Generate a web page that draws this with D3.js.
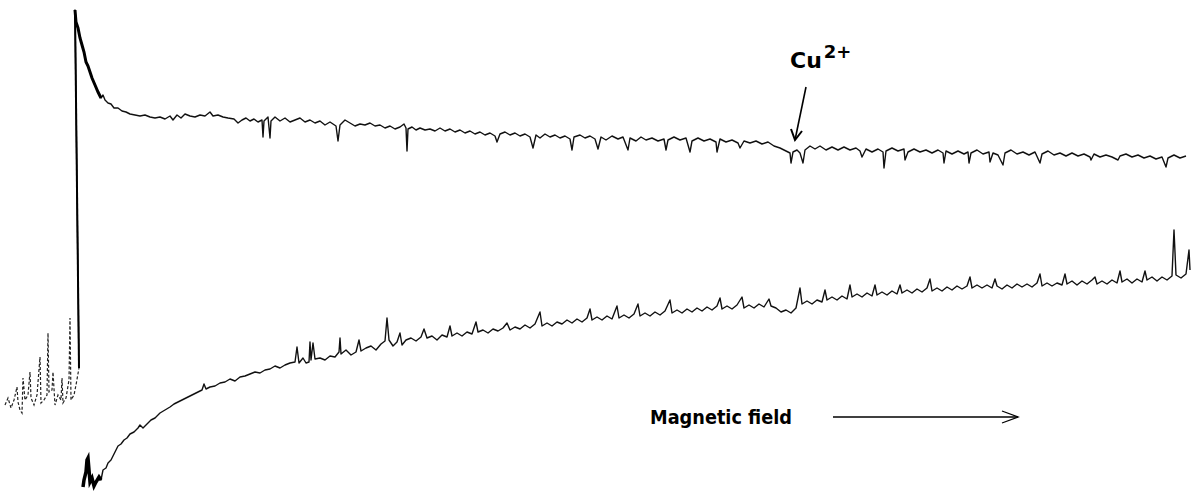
<!DOCTYPE html>
<html>
<head>
<meta charset="utf-8">
<script src="https://cdn.jsdelivr.net/npm/d3@7"></script>
<style>
  body { margin: 0; background: #fff; }
  #chart { width: 1194px; height: 493px; }
</style>
</head>
<body>
<div id="chart"></div>
<script>
// field in arbitrary sweep units, signal in arbitrary units

// noisy stretch before the big line
const leadField  = [0.5,0.8,1.1,1.4,1.7,1.8,2.0,2.2,2.3,2.5,2.8,3.0,3.1,3.4,3.7,4.0,4.1,4.4,4.7,4.8,4.9,5.2,5.3,5.5,5.8,6.1,6.2,6.3,6.6,6.9,7.0,7.1,7.4,7.6,7.9];
const leadSignal = [88,95,85,93,106,91,83,80,115,93,98,121,95,88,98,136,90,93,98,160,101,103,121,88,98,93,115,90,95,113,175,93,98,108,125];

// upper trace (big line + decay + Cu2+ region)
const upperField = [7.9,7.5,7.6,7.8,8.0,8.2,8.4,8.6,8.8,9.0,9.2,9.5,9.8,10.1,10.3,10.5,10.8,11.1,11.4,11.8,12.2,12.6,13.0,13.5,14.0,14.5,15.0,15.5,16.0,16.5,17.0,17.3,17.7,18.1,18.5,19.0,19.5,20.0,20.5,21.0,21.3,21.8,22.3,22.8,23.4,23.8,24.2,24.6,25.0,25.4,25.8,26.2,26.3,26.4,26.8,27.0,27.1,27.5,28.0,28.5,29.0,29.5,
  30.0,30.5,31.0,31.5,32.0,32.5,33.0,33.6,33.8,34.0,34.5,35.0,35.5,36.0,36.5,37.0,37.5,38.0,38.5,39.0,39.5,40.0,40.4,40.6,40.7,40.8,41.2,41.6,42.0,42.5,43.0,43.5,44.0,44.5,45.0,45.5,46.0,46.5,47.0,47.5,48.0,48.5,49.0,49.5,49.7,
  50.0,50.5,51.0,51.5,52.0,52.5,53.0,53.3,53.6,54.0,54.5,55.0,55.5,56.0,56.5,57.0,57.2,57.4,58.0,58.5,59.0,59.5,59.8,60.1,60.6,61.2,61.8,62.3,62.8,63.0,63.6,64.1,64.6,65.2,65.8,66.4,66.6,66.8,67.4,68.0,68.6,69.0,69.2,69.8,
  70.4,71.0,71.6,71.7,72.0,72.6,73.2,73.8,74.0,74.4,75.0,75.6,76.2,76.8,77.4,78.0,78.6,79.0,79.1,79.3,79.7,80.0,80.3,80.5,81.0,81.5,82.0,82.6,83.2,83.8,84.4,85.0,85.6,86.0,86.2,86.6,87.2,87.8,88.3,88.4,88.6,89.2,89.8,
  90.4,90.5,90.8,91.4,92.0,92.6,93.2,93.8,94.3,94.4,94.6,95.2,95.8,96.4,96.8,96.9,97.1,97.7,98.3,98.9,99.0,99.3,99.8,100.3,100.5,101.1,101.7,102.3,102.9,103.5,104.0,104.2,104.8,105.4,106.0,106.6,107.2,107.8,108.4,109.0,109.1,109.4,
  110.0,110.6,111.2,111.8,112.0,112.6,113.2,113.8,114.4,115.0,115.6,116.2,116.6,116.8,117.4,118.0,118.6];
const upperSignal = [125,483,471,465,455,448,441,431,427,421,415,408,401,395,398,393,390,389,385,385,382,381,379,378,377,378,376,375,376,374,377,373,378,375,379,377,376,378,377,381,377,378,376,375,374,370,373,375,372,374,371,373,356,372,376,355,372,376,372,375,371,373,
  375,371,373,370,372,368,371,367,352,368,373,370,367,369,368,370,367,368,365,367,364,366,369,365,342,364,366,363,365,363,364,362,365,362,364,361,363,360,362,359,361,358,360,357,351,
  359,361,358,360,357,359,356,345,358,355,359,356,358,355,357,354,343,356,358,355,357,354,344,356,353,357,354,356,343,355,352,356,353,355,352,354,343,353,356,353,355,341,352,355,
  352,354,351,341,354,351,353,350,345,352,350,352,349,351,347,345,342,340,330,341,343,340,330,343,347,344,347,343,346,343,346,343,345,342,336,344,341,344,341,325,342,345,342,
  344,333,341,344,341,343,340,343,340,330,342,339,342,339,341,330,340,343,339,341,331,340,338,328,340,343,339,341,338,341,330,339,342,338,340,337,340,337,339,336,333,339,
  336,338,336,333,337,339,336,338,335,337,334,336,326,335,338,335,337];

// lower trace (rising baseline)
const lowerField = [8.3,8.4,8.6,8.7,8.8,8.9,9.0,9.2,9.4,9.6,9.9,10.1,10.3,10.6,10.8,11.1,11.3,11.6,11.8,12.1,12.4,12.7,13.0,13.4,13.8,14.0,14.3,14.7,15.1,15.5,16.0,16.5,17.0,17.4,17.8,18.2,18.6,19.0,19.4,19.8,20.2,20.4,20.6,21.0,21.5,22.0,22.5,23.0,23.5,24.0,24.5,25.0,25.5,26.0,26.5,27.0,27.5,28.0,28.5,29.0,29.5,29.7,29.9,
  30.3,30.6,30.9,31.0,31.1,31.3,31.5,32.0,32.5,33.0,33.5,33.9,34.0,34.1,34.6,35.1,35.6,35.9,36.1,36.6,37.1,37.6,38.1,38.5,38.7,38.9,39.3,39.7,40.0,40.2,40.6,41.1,41.6,42.1,42.4,42.7,43.2,43.7,44.2,44.7,45.0,45.2,45.7,46.2,46.7,47.2,47.6,47.8,48.3,48.8,49.3,49.8,
  50.3,50.7,51.0,51.5,52.0,52.5,53.0,53.5,54.0,54.2,54.7,55.2,55.7,56.2,56.7,57.2,57.7,58.2,58.7,59.0,59.2,59.7,60.2,60.7,61.2,61.7,61.9,62.4,62.9,63.4,63.8,64.0,64.5,65.0,65.5,66.0,66.5,67.0,67.2,67.7,68.2,68.7,69.2,69.7,
  70.2,70.7,71.2,71.7,72.0,72.2,72.7,73.2,73.7,74.2,74.4,74.9,75.4,75.9,76.4,76.9,77.1,77.6,78.1,78.6,79.1,79.6,80.0,80.2,80.7,81.2,81.7,82.2,82.5,82.7,83.2,83.7,84.2,84.7,85.0,85.2,85.7,86.2,86.7,87.2,87.5,87.7,88.2,88.7,89.2,89.7,
  90.0,90.2,90.7,91.2,91.7,92.2,92.7,93.0,93.2,93.7,94.2,94.7,95.2,95.7,96.2,96.7,97.0,97.2,97.7,98.2,98.7,99.2,99.5,99.7,100.2,100.7,101.2,101.7,102.2,102.7,103.2,103.7,104.0,104.2,104.7,105.2,105.7,106.2,106.5,106.7,107.2,107.7,108.2,108.7,109.2,109.5,109.7,
  110.2,110.7,111.2,111.7,112.0,112.2,112.7,113.2,113.7,114.2,114.5,114.7,115.2,115.7,116.2,116.7,117.2,117.4,117.6,118.1,118.6,118.9,119.0];
const lowerSignal = [6,13,21,33,35,23,11,15,7,11,16,13,23,25,30,33,37,43,47,49,53,55,59,61,65,68,65,69,73,75,80,83,86,89,91,93,95,97,99,101,103,109,104,106,107,110,111,114,112,116,117,119,121,120,123,124,127,125,128,130,131,146,130,
  135,130,131,151,133,150,134,135,133,137,136,141,155,139,143,138,141,153,142,145,147,143,149,152,175,153,147,151,160,148,153,155,152,156,164,155,157,153,158,156,167,157,160,157,161,159,171,161,163,160,164,162,
  165,170,163,166,164,168,165,169,181,167,170,167,171,169,173,170,174,171,175,184,173,176,173,177,174,187,175,178,175,179,189,177,180,177,181,178,182,193,180,183,180,184,181,185,
  182,186,183,187,195,184,187,184,188,196,185,188,185,189,186,194,187,185,181,183,180,185,205,189,192,189,193,191,203,193,196,193,197,194,208,196,199,196,200,197,208,198,201,198,202,199,
  208,200,203,200,204,201,205,214,202,205,202,206,203,207,204,207,216,205,208,205,208,205,214,207,204,208,205,209,206,209,206,210,219,207,210,207,210,208,219,209,212,208,212,209,213,216,209,
  212,209,213,210,222,211,214,210,214,211,222,213,216,212,216,213,217,263,218,215,219,243,223];

// annotation anchors (field, signal)
const cuLabel = {field: 79.0, signal: 425, text: "Cu", sup: "2+"};
const cuArrow = [[80.6, 406], [79.5, 353]];
const fieldLabel = {field: 65.0, signal: 69, text: "Magnetic field"};
const fieldArrow = [[83.3, 76], [101.8, 76]];

class Spectrum {
  constructor(id) {
    this.id = id;
    this.width = document.getElementById(id).clientWidth;
    this.height = document.getElementById(id).clientHeight;
    this.draw();
  }

  zip(fs, ss) {
    return fs.map((f, i) => [f, ss[i]]);
  }

  draw() {
    const svg = d3.select("#" + this.id)
      .append("svg")
      .attr("width", this.width)
      .attr("height", this.height);

    const x = d3.scaleLinear().domain([0, 119.4]).range([0, this.width]);
    const y = d3.scaleLinear().domain([0, 493]).range([this.height, 0]);

    const line = d3.line().x(d => x(d[0])).y(d => y(d[1]));

    const lead = this.zip(leadField, leadSignal);
    const upper = this.zip(upperField, upperSignal);
    const lower = this.zip(lowerField, lowerSignal);

    // dotted-looking fast noise on the far left
    svg.append("path")
      .attr("d", line(lead))
      .attr("fill", "none")
      .attr("stroke", "#222")
      .attr("stroke-width", 1.2)
      .style("stroke-dasharray", "3,2");

    svg.append("path")
      .attr("d", line(upper))
      .attr("fill", "none")
      .attr("stroke", "#111")
      .attr("stroke-width", 1.4)
      .attr("stroke-linejoin", "round");

    svg.append("path")
      .attr("d", line(lower))
      .attr("fill", "none")
      .attr("stroke", "#111")
      .attr("stroke-width", 1.4)
      .attr("stroke-linejoin", "round");

    // pen was heavier at the start of each sweep
    svg.append("path")
      .attr("d", line(upper.slice(0, 2)))
      .attr("fill", "none")
      .attr("stroke", "#000")
      .attr("stroke-width", 2);
    svg.append("path")
      .attr("d", line(upper.slice(1, 14)))
      .attr("fill", "none")
      .attr("stroke", "#000")
      .attr("stroke-width", 3);
    svg.append("path")
      .attr("d", line(lower.slice(0, 12)))
      .attr("fill", "none")
      .attr("stroke", "#000")
      .attr("stroke-width", 3.5);

    // Cu2+ label
    const cu = svg.append("text")
      .attr("x", x(cuLabel.field))
      .attr("y", y(cuLabel.signal))
      .attr("font-family", "DejaVu Sans, sans-serif")
      .attr("font-weight", "bold")
      .attr("font-size", 22);
    cu.append("tspan").text(cuLabel.text);
    cu.append("tspan").attr("dy", -10).attr("dx", 2).attr("font-size", 18).text(cuLabel.sup);

    svg.append("line")
      .attr("x1", x(cuArrow[0][0])).attr("y1", y(cuArrow[0][1]))
      .attr("x2", x(cuArrow[1][0])).attr("y2", y(cuArrow[1][1]))
      .attr("stroke", "#000").attr("stroke-width", 1.6);
    const tx = x(cuArrow[1][0]), ty = y(cuArrow[1][1]);
    svg.append("path")
      .attr("d", `M${tx - 4},${ty - 11}L${tx},${ty}L${tx + 7},${ty - 9}`)
      .attr("fill", "none").attr("stroke", "#000").attr("stroke-width", 2);

    // Magnetic field label and arrow
    svg.append("text")
      .attr("x", x(fieldLabel.field))
      .attr("y", y(fieldLabel.signal))
      .attr("font-family", "DejaVu Sans, sans-serif")
      .attr("font-weight", "bold")
      .attr("font-size", 20)
      .attr("textLength", 142)
      .attr("lengthAdjust", "spacingAndGlyphs")
      .text(fieldLabel.text);

    const ax1 = x(fieldArrow[0][0]), ax2 = x(fieldArrow[1][0]), ay = y(fieldArrow[0][1]);
    svg.append("line")
      .attr("x1", ax1).attr("y1", ay).attr("x2", ax2).attr("y2", ay)
      .attr("stroke", "#000").attr("stroke-width", 1.3);
    svg.append("path")
      .attr("d", `M${ax2 - 16},${ay - 6}L${ax2},${ay}L${ax2 - 16},${ay + 6}`)
      .attr("fill", "none").attr("stroke", "#000").attr("stroke-width", 1.3);
  }
}

new Spectrum("chart");
</script>
</body>
</html>
